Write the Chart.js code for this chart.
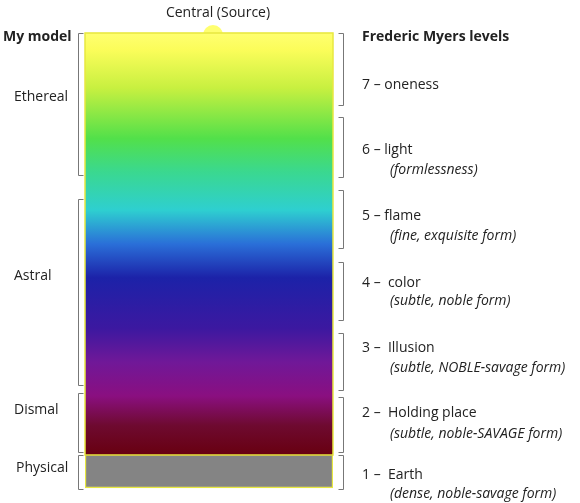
<!DOCTYPE html><html><head><meta charset="utf-8">
<script src="https://cdn.jsdelivr.net/npm/chart.js@4"></script>
<style>html,body{margin:0;padding:0;background:#fff}#c{display:block}</style></head><body>
<canvas id="c" width="580" height="503"></canvas>
<script>
const categories=['column'];
const spectrumRange=[33,455];
const physicalRange=[455,488];
const modelLabels=['Ethereal','Astral','Dismal','Physical'];
const modelRanges=[[33,176],[199,386],[393,453],[455,490]];
const modelLabelY=[97,276,410,468];
const myersMain=['7 – oneness','6 – light','5 – flame','4 –  color','3 –  Illusion','2 –  Holding place','1 –  Earth'];
const myersSub=['','(formlessness)','(fine, exquisite form)','(subtle, noble form)','(subtle, NOBLE-savage form)','(subtle, noble-SAVAGE form)','(dense, noble-savage form)'];
const myersRanges=[[33,106],[117,178],[190,249],[262,321],[333,391],[397,453],[455,490]];
const myersMainY=[85,150,216,283,348,413,475];
const myersSubY=[0,170,236,301,368,434,494];
const gradStops=[[0,'#ffff70'],[0.04,'#fbfd5a'],[0.13,'#c8f040'],[0.25,'#52e04a'],[0.33,'#3ad890'],[0.42,'#2ecfd0'],[0.5,'#2a6fd8'],[0.58,'#1c22a8'],[0.7,'#3c18a0'],[0.78,'#701898'],[0.86,'#8a0f80'],[0.93,'#6e0a30'],[1,'#680010']];
const F='"Open Sans", sans-serif';
const deco={id:'deco',afterDatasetsDraw(ch){
 const c=ch.ctx,y=ch.scales.y,ca=ch.chartArea;
 c.save();
 c.fillStyle='#ffff70';c.beginPath();c.arc(213,y.getPixelForValue(spectrumRange[0])+2,10,Math.PI,0);c.fill();
 c.strokeStyle='#e8e840';c.lineWidth=1.5;c.strokeRect(ca.left,y.getPixelForValue(spectrumRange[0]),ca.right-ca.left,y.getPixelForValue(spectrumRange[1])-y.getPixelForValue(spectrumRange[0]));
 c.fillStyle='#222';c.textBaseline='middle';
 c.font='14px '+F;c.textAlign='center';c.fillText('Central (Source)',218,13);
 c.font='bold 14px '+F;c.textAlign='left';c.fillText('My model',3,37);c.fillText('Frederic Myers levels',362,37);
 c.strokeStyle='#777';c.lineWidth=1;
 function br(x,r,dir){const a=y.getPixelForValue(r[0])+0.5,b=y.getPixelForValue(r[1])-0.5;c.beginPath();c.moveTo(x+dir*5,a);c.lineTo(x,a);c.lineTo(x,b);c.lineTo(x+dir*5,b);c.stroke();}
 c.font='14px '+F;
 modelLabels.forEach((t,i)=>{br(ca.left-6.5,modelRanges[i],1);c.fillText(t,i==3?16:14,y.getPixelForValue(modelLabelY[i]));});
 myersMain.forEach((t,i)=>{br(ca.right+10.5,myersRanges[i],-1);c.font='14px '+F;c.fillText(t,362,y.getPixelForValue(myersMainY[i]));
  if(myersSub[i]){c.font='italic 14px '+F;c.fillText(myersSub[i],390,y.getPixelForValue(myersSubY[i]));}});
 c.restore();}};
new Chart(document.getElementById('c'),{type:'bar',
 data:{labels:categories,datasets:[
  {data:[spectrumRange],grouped:false,backgroundColor(ctx){const ch=ctx.chart,ca=ch.chartArea;if(!ca)return '#0f0';const y=ch.scales.y;const g=ch.ctx.createLinearGradient(0,y.getPixelForValue(spectrumRange[0]),0,y.getPixelForValue(spectrumRange[1]));gradStops.forEach(s=>g.addColorStop(s[0],s[1]));return g;},categoryPercentage:1,barPercentage:1},
  {data:[physicalRange],grouped:false,backgroundColor:'#848484',borderColor:'#e8e840',borderWidth:1.5,categoryPercentage:1,barPercentage:1}]},
 options:{responsive:false,animation:false,layout:{padding:{left:85,right:247,top:0,bottom:0}},
  plugins:{legend:{display:false},tooltip:{enabled:false}},
  scales:{x:{display:false},y:{display:false,min:0,max:503,reverse:true}}},
 plugins:[deco]});
</script></body></html>
